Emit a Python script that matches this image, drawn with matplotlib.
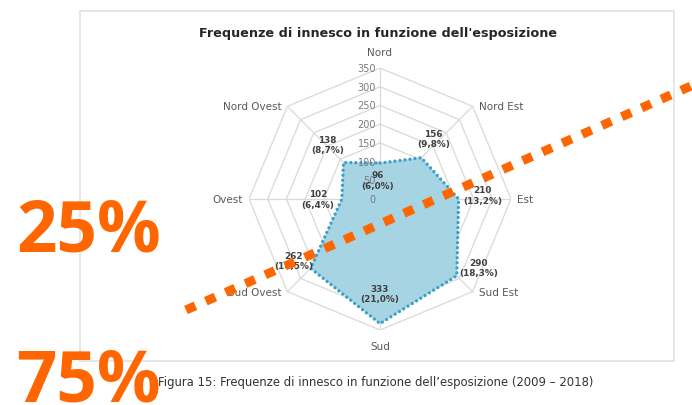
import numpy as np
import matplotlib.pyplot as plt
from matplotlib.patches import Rectangle

# wind exposure of fire ignitions, 2009-2018
directions = ["Nord", "Nord Est", "Est", "Sud Est", "Sud", "Sud Ovest", "Ovest", "Nord Ovest"]
counts = [96, 156, 210, 290, 333, 262, 102, 138]
shares = ["6,0%", "9,8%", "13,2%", "18,3%", "21,0%", "16,5%", "6,4%", "8,7%"]
r_ticks = [0, 50, 100, 150, 200, 250, 300, 350]
overlay_pcts = ["25%", "75%"]

title = "Frequenze di innesco in funzione dell'esposizione"
caption = "Figura 15: Frequenze di innesco in funzione dell\u2019esposizione (2009 \u2013 2018)"

W, H = 692, 406
fig = plt.figure(figsize=(W / 100, H / 100), dpi=100)
fig.patch.set_facecolor("white")

GRID = "#d9d9d9"
LABEL = "#595959"
ORANGE = "#ff6600"
FONT = "DejaVu Sans"

# background layer in pixel coordinates: frame, title, caption
bg = fig.add_axes([0, 0, 1, 1], zorder=0)
bg.set_xlim(0, W)
bg.set_ylim(H, 0)
bg.axis("off")
bg.add_patch(Rectangle((80, 12), 594, 350, fill=False,
                       edgecolor="#e4e4e4", linewidth=1.3))
bg.text(378, 33, title, ha="center", va="center", fontsize=9.2,
        fontweight="bold", color="#262626", family=FONT)

# radar drawn on a cartesian square axes
cx, cy, R = 380, 200, 131
rmax = r_ticks[-1]
ax = fig.add_axes([(cx - R) / W, (H - cy - R) / H, 2 * R / W, 2 * R / H], zorder=1)
ax.set_xlim(-rmax, rmax)
ax.set_ylim(-rmax, rmax)
ax.axis("off")
ax.patch.set_alpha(0)

n = len(directions)
theta = np.arange(n) * 2 * np.pi / n
ux, uy = np.sin(theta), np.cos(theta)

# octagonal grid and spokes
for lvl in r_ticks[1:]:
    ax.plot(np.append(ux, ux[0]) * lvl, np.append(uy, uy[0]) * lvl,
            color=GRID, linewidth=0.9, zorder=1)
for i in range(n):
    ax.plot([0, ux[i] * rmax], [0, uy[i] * rmax], color=GRID, linewidth=0.9, zorder=1)

# radial tick labels along the north spoke
for lvl in r_ticks:
    ax.annotate(str(lvl), (0, lvl), xytext=(-4, 0), textcoords="offset pixels",
                ha="right", va="center", fontsize=7, color="#7a7a7a", family=FONT, zorder=4)

# category labels around the outer ring
for i, name in enumerate(directions):
    s, c = ux[i], uy[i]
    if abs(s) < 1e-6:
        ha, off = "center", (0, 16 * np.sign(c))
    else:
        ha = "left" if s > 0 else "right"
        off = (6 * np.sign(s), 0)
    ax.annotate(name, (s * rmax, c * rmax), xytext=off, textcoords="offset pixels",
                ha=ha, va="center", fontsize=7.5, color=LABEL, family=FONT)

# data polygon
vx = np.array(counts) * ux
vy = np.array(counts) * uy
ax.fill(vx, vy, color="#a6d4e2", zorder=2, linewidth=0)
ax.plot(np.append(vx, vx[0]), np.append(vy, vy[0]), color="#3a9fca",
        linewidth=2.4, linestyle=(0, (0.01, 1.5)), dash_capstyle="round", zorder=3)

# value labels (pixel offsets from each vertex)
label_offsets = [(-2, -17), (12, 19), (24, 4), (22, 8), (0, 30), (-17, 8), (-24, 0), (-16, 18)]
for i in range(n):
    ax.annotate(f"{counts[i]}\n({shares[i]})", (vx[i], vy[i]), xytext=label_offsets[i],
                textcoords="offset pixels", ha="center", va="center", fontsize=6.4,
                fontweight="bold", color="#404040", family=FONT, linespacing=1.2, zorder=4)

# top layer: orange annotations over the chart
top = fig.add_axes([0, 0, 1, 1], zorder=3)
top.set_xlim(0, W)
top.set_ylim(H, 0)
top.axis("off")
top.patch.set_alpha(0)

top.plot([186, 700], [311, 83], color=ORANGE, linewidth=6.5,
         linestyle=(0, (1.15, 1.25)), dash_capstyle="butt", solid_capstyle="butt")

top.text(16, 252, overlay_pcts[0], ha="left", va="baseline", fontsize=51,
         fontweight="bold", color=ORANGE, family="Open Sans")
top.text(16, 402, overlay_pcts[1], ha="left", va="baseline", fontsize=51,
         fontweight="bold", color=ORANGE, family="Open Sans")

top.text(158, 383, caption, ha="left", va="center", fontsize=8.4,
         color="#333333", family=FONT)

fig.savefig("out.png", dpi=100, facecolor="white")
